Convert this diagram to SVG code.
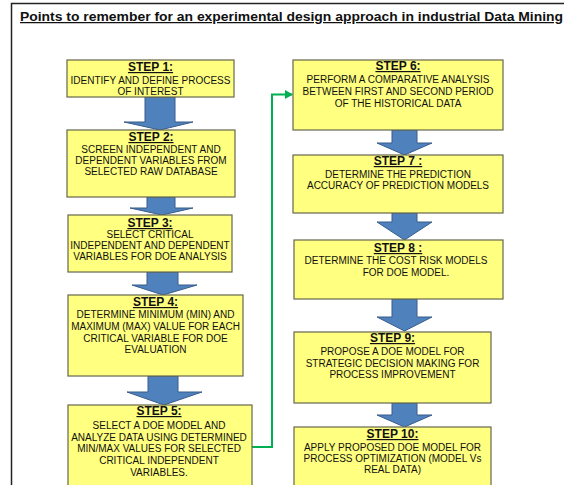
<svg xmlns="http://www.w3.org/2000/svg" width="564" height="485" viewBox="0 0 564 485">
<defs>
<style>
.box{fill:#FFFF80;stroke:#66664f;stroke-width:1.2}
.arr{fill:#4F81BD;stroke:#385D8A;stroke-width:1}
.hd{font-family:"Liberation Sans",Arial,sans-serif;font-size:12px;font-weight:bold;text-decoration:underline;text-anchor:middle;fill:#111}
.tx{font-family:"Liberation Sans",Arial,sans-serif;font-size:10px;text-anchor:middle;fill:#111}
.ttl{font-family:"Liberation Sans",Arial,sans-serif;font-size:12.5px;font-weight:bold;text-decoration:underline;fill:#111}
</style>
<marker id="gh" markerWidth="9" markerHeight="9" refX="7" refY="4.5" orient="auto" markerUnits="userSpaceOnUse">
<path d="M0,0 L8,4.5 L0,9 Z" fill="#00B050"/>
</marker>
</defs>
<rect x="0" y="0" width="564" height="485" fill="#fff"/>
<rect x="11.5" y="3.5" width="600" height="600" fill="none" stroke="#222" stroke-width="1.5"/>
<text class="ttl" x="20" y="21" textLength="543" lengthAdjust="spacingAndGlyphs">Points to remember for an experimental design approach in industrial Data Mining</text>

<g id="connectors">
<polygon class="arr" points="145,97 175,97 175,122 193,122 160,130 124,122 145,122"/>
<polygon class="arr" points="147,197 175,197 175,208 193,208 162,215 130,208 147,208"/>
<polygon class="arr" points="147,272 178,272 178,285 197,285 163,295 132,285 147,285"/>
<polygon class="arr" points="148,376 178,376 178,392 202,392 164,405 127,392 148,392"/>
<polygon class="arr" points="392,130 417,130 417,143 432,143 404.5,155 377,143 392,143"/>
<polygon class="arr" points="392,213 417,213 417,222 432,222 404.5,240 377,222 392,222"/>
<polygon class="arr" points="392,299 417,299 417,317 432,317 404.5,331 377,317 392,317"/>
<polygon class="arr" points="392,403 417,403 417,415 432,415 404.5,427 377,415 392,415"/>
<polyline points="252,447 272,447 272,94.5 292,94.5" fill="none" stroke="#00B050" stroke-width="2" marker-end="url(#gh)"/>
</g>

<g id="step1">
<rect class="box" x="67" y="60" width="167" height="37"/>
<text class="hd" x="150.5" y="71">STEP 1:</text>
<text class="tx" x="150.5" y="84">IDENTIFY AND DEFINE PROCESS</text>
<text class="tx" x="150.5" y="95">OF INTEREST</text>
</g>
<g id="step2">
<rect class="box" x="67" y="130" width="168" height="67"/>
<text class="hd" x="151" y="141">STEP 2:</text>
<text class="tx" x="151" y="153">SCREEN INDEPENDENT AND</text>
<text class="tx" x="151" y="164">DEPENDENT VARIABLES FROM</text>
<text class="tx" x="151" y="175">SELECTED RAW DATABASE</text>
</g>
<g id="step3">
<rect class="box" x="68" y="215" width="164" height="57"/>
<text class="hd" x="150" y="227">STEP 3:</text>
<text class="tx" x="150" y="238">SELECT CRITICAL</text>
<text class="tx" x="150" y="249">INDEPENDENT AND DEPENDENT</text>
<text class="tx" x="150" y="260">VARIABLES FOR DOE ANALYSIS</text>
</g>
<g id="step4">
<rect class="box" x="68" y="295" width="175" height="81"/>
<text class="hd" x="155.5" y="306">STEP 4:</text>
<text class="tx" x="155.5" y="318">DETERMINE MINIMUM  (MIN) AND</text>
<text class="tx" x="155.5" y="330">MAXIMUM  (MAX) VALUE FOR EACH</text>
<text class="tx" x="155.5" y="342">CRITICAL VARIABLE FOR DOE</text>
<text class="tx" x="155.5" y="353">EVALUATION</text>
</g>
<g id="step5">
<rect class="box" x="68" y="405" width="184" height="95"/>
<text class="hd" x="159" y="415">STEP 5:</text>
<text class="tx" x="159" y="429">SELECT A DOE MODEL AND</text>
<text class="tx" x="159" y="441">ANALYZE DATA USING DETERMINED</text>
<text class="tx" x="159" y="452">MIN/MAX VALUES FOR SELECTED</text>
<text class="tx" x="159" y="464">CRITICAL INDEPENDENT</text>
<text class="tx" x="159" y="476">VARIABLES.</text>
</g>
<g id="step6">
<rect class="box" x="293" y="60" width="210" height="70"/>
<text class="hd" x="398" y="70">STEP 6:</text>
<text class="tx" x="398" y="83">PERFORM A COMPARATIVE ANALYSIS</text>
<text class="tx" x="398" y="95">BETWEEN FIRST AND SECOND PERIOD</text>
<text class="tx" x="398" y="107">OF THE HISTORICAL DATA</text>
</g>
<g id="step7">
<rect class="box" x="293" y="155" width="210" height="58"/>
<text class="hd" x="398" y="165">STEP 7 :</text>
<text class="tx" x="398" y="178">DETERMINE THE PREDICTION</text>
<text class="tx" x="398" y="189">ACCURACY OF PREDICTION MODELS</text>
</g>
<g id="step8">
<rect class="box" x="294" y="240" width="209" height="59"/>
<text class="hd" x="398" y="252">STEP 8 :</text>
<text class="tx" x="396" y="264">DETERMINE THE COST RISK MODELS</text>
<text class="tx" x="406" y="276">FOR DOE MODEL.</text>
</g>
<g id="step9">
<rect class="box" x="294" y="332" width="197" height="71"/>
<text class="hd" x="392.5" y="342">STEP 9:</text>
<text class="tx" x="392.5" y="355">PROPOSE A DOE MODEL FOR</text>
<text class="tx" x="392.5" y="367">STRATEGIC DECISION MAKING FOR</text>
<text class="tx" x="392.5" y="378">PROCESS IMPROVEMENT</text>
</g>
<g id="step10">
<rect class="box" x="294" y="427" width="197" height="70"/>
<text class="hd" x="392.5" y="438">STEP 10:</text>
<text class="tx" x="392.5" y="451">APPLY PROPOSED DOE MODEL FOR</text>
<text class="tx" x="392.5" y="462">PROCESS OPTIMIZATION  (MODEL Vs</text>
<text class="tx" x="392.5" y="473">REAL DATA)</text>
</g>
</svg>
